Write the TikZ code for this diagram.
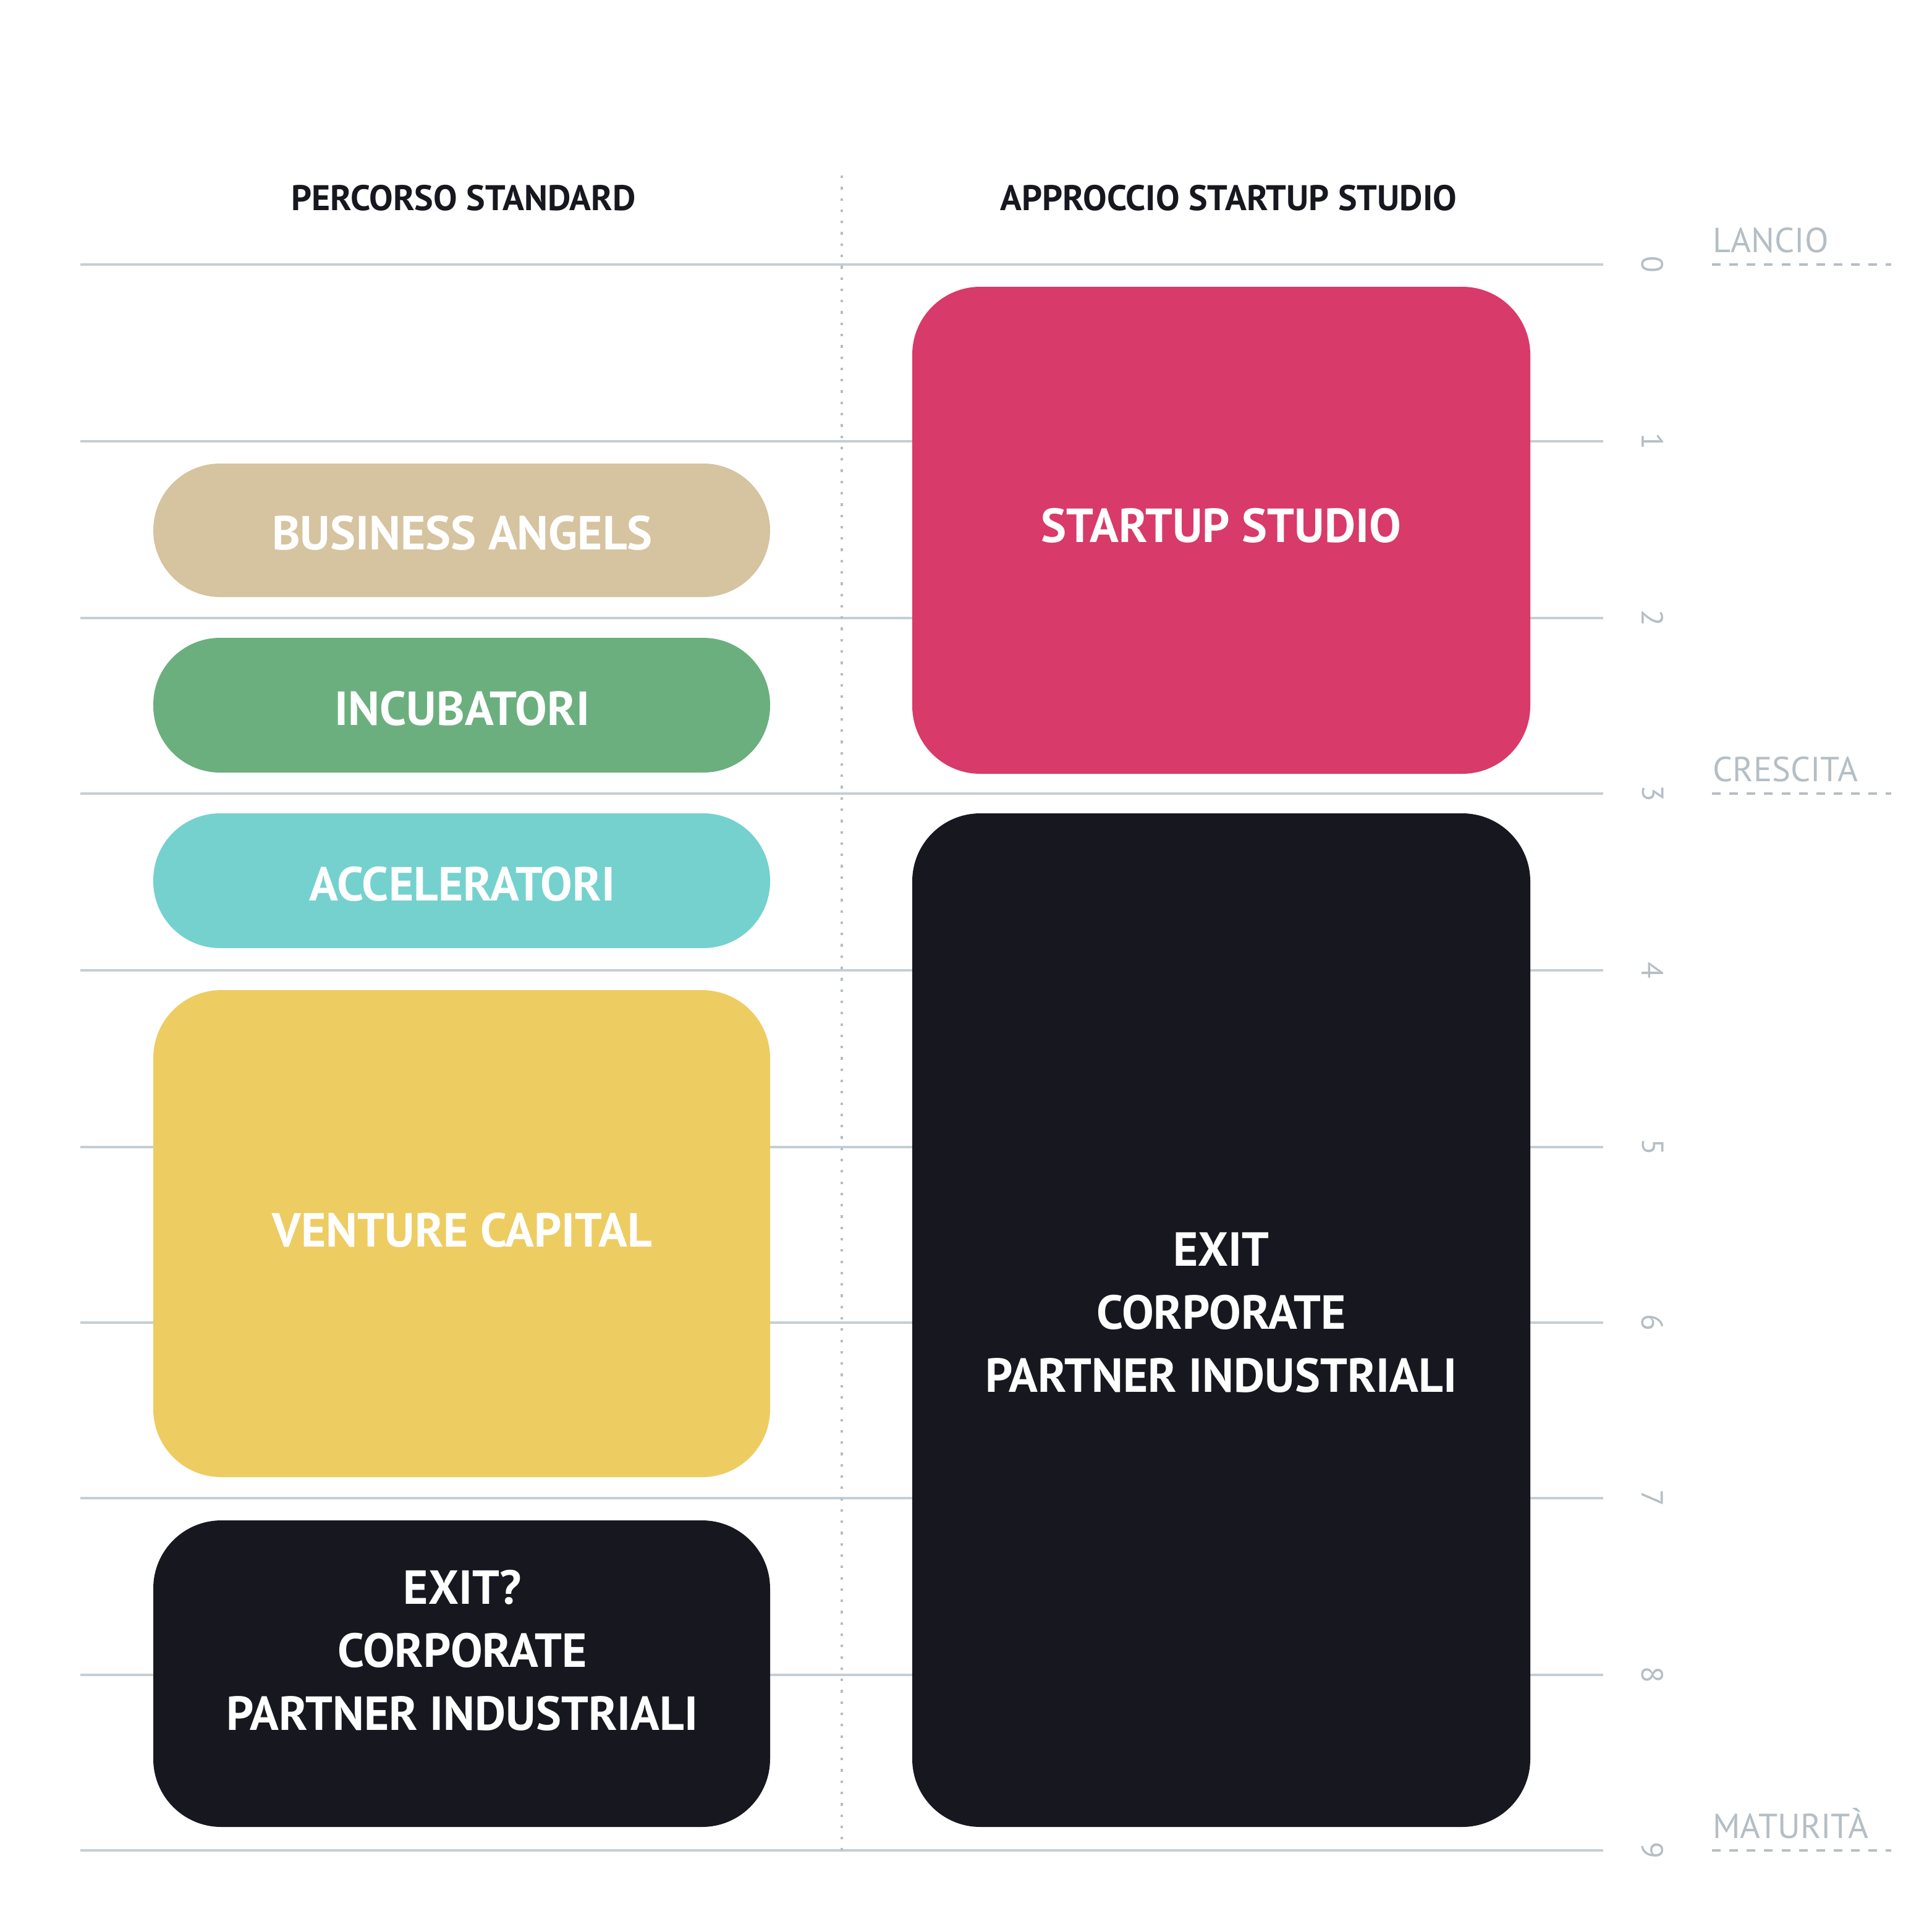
\documentclass[tikz,border=0pt]{standalone}
\usepackage{fontspec}
\setmainfont{PT Sans}
\definecolor{grid}{HTML}{C5CED4}
\definecolor{lab}{HTML}{B5BEC5}
\definecolor{tan}{HTML}{D6C39F}
\definecolor{grn}{HTML}{6BAF7F}
\definecolor{cyn}{HTML}{74D1CE}
\definecolor{yel}{HTML}{EDCC62}
\definecolor{pnk}{HTML}{D83A6A}
\definecolor{blk}{HTML}{171720}
\begin{document}
\begin{tikzpicture}[x=0.01cm,y=-0.01cm,
 box/.style={rounded corners=0.55cm,draw=none},
 btxt/.style={text=white,font=\fontsize{11}{14.5}\selectfont\bfseries,align=center},
 head/.style={text=blk,font=\fontsize{8.2}{10}\selectfont\bfseries},
 num/.style={text=lab,font=\fontsize{7}{8}\selectfont,rotate=-90},
 lbl/.style={text=lab,font=\fontsize{8}{9}\selectfont,anchor=base west,inner sep=0pt}]
\useasboundingbox (0,0) rectangle (1563,1563);
\foreach \i/\y in {0/214,1/357,2/500,3/642,4/785,5/928,6/1070,7/1212,8/1355,9/1497}{
 \draw[grid,line width=0.5pt] (65,\y) -- (1297,\y);
 \node[num] (n\i) at (1337,\y) {\i};
}
\draw[lab,dotted,line width=0.6pt] (681,142) -- (681,1497);
\node[head] (h1) at (375,160) {PERCORSO STANDARD};
\node[head] (h2) at (994,160) {APPROCCIO STARTUP STUDIO};
\foreach \t/\y in {LANCIO/214,CRESCITA/642,MATURITÀ/1497}{
 \node[lbl] at (1385,\y-10) {\t};
 \draw[lab,dashed,dash pattern=on 2pt off 2pt,line width=0.6pt] (1385,\y) -- (1530,\y);
}
\fill[tan,rounded corners=0.54cm] (124,375) rectangle (623,483);
\node[btxt] (ba) at (374,431) {BUSINESS ANGELS};
\fill[grn,rounded corners=0.54cm] (124,516) rectangle (623,625);
\node[btxt] (inc) at (374,573) {INCUBATORI};
\fill[cyn,rounded corners=0.54cm] (124,658) rectangle (623,767);
\node[btxt] (acc) at (374,715) {ACCELERATORI};
\fill[yel,box] (124,801) rectangle (623,1195);
\node[btxt] (vc) at (374,995) {VENTURE CAPITAL};
\fill[blk,box] (124,1230) rectangle (623,1478);
\node[btxt] (ex1) at (374,1335) {EXIT?\\CORPORATE\\PARTNER INDUSTRIALI};
\fill[pnk,box] (738,232) rectangle (1238,626);
\node[btxt] (ss) at (988,425) {STARTUP STUDIO};
\fill[blk,box] (738,658) rectangle (1238,1478);
\node[btxt] (ex2) at (988,1062) {EXIT\\CORPORATE\\PARTNER INDUSTRIALI};
\end{tikzpicture}
\end{document}
